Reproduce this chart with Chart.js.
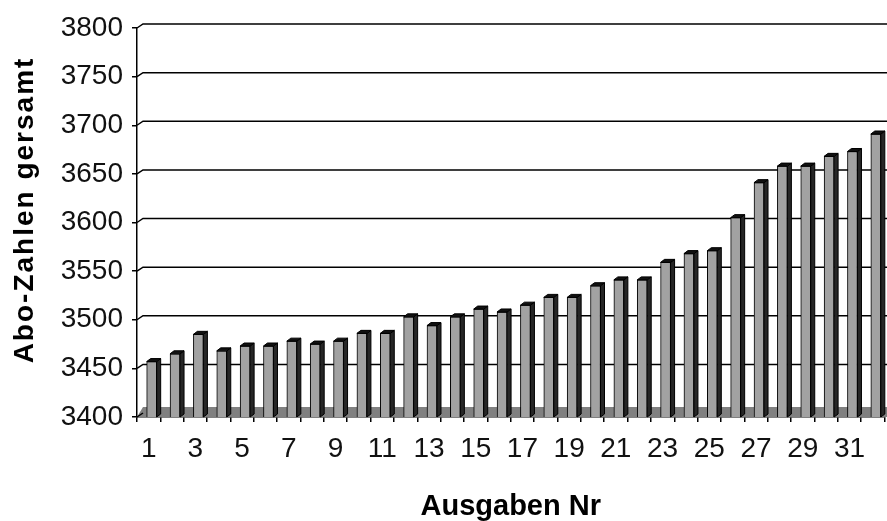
<!DOCTYPE html>
<html>
<head>
<meta charset="utf-8">
<script src="https://cdn.jsdelivr.net/npm/chart.js@4.4.1/dist/chart.umd.min.js"></script>
<style>
  html, body { margin: 0; padding: 0; background: #fff; overflow: hidden; }
  #wrap { width: 887px; height: 521px; }
</style>
</head>
<body>
<div id="wrap"><canvas id="chart" width="887" height="521"></canvas></div>
<script>
const ausgaben = ['1','2','3','4','5','6','7','8','9','10','11','12','13','14','15','16',
                  '17','18','19','20','21','22','23','24','25','26','27','28','29','30','31','32'];
const aboZahlen = [3457, 3465, 3485, 3468, 3473, 3473, 3478, 3475, 3478, 3486, 3486, 3503, 3494, 3503, 3511, 3508,
                   3515, 3523, 3523, 3535, 3541, 3541, 3559, 3568, 3571, 3605, 3641, 3658, 3658, 3668, 3673, 3691];
const yTicks = [3400, 3450, 3500, 3550, 3600, 3650, 3700, 3750, 3800];

const numFont = "'Liberation Sans', Arial, sans-serif";
const DX = 3;       // 3D shift of the bars
const DEPTH_X = 4, DEPTH_Y = 3;
const WALL_X = 6, WALL_Y = 4;

// back wall, floor and the 3D sides of the bars
const pseudo3d = {
  id: 'pseudo3d',
  beforeDatasetsDraw(chart) {
    const {ctx, chartArea: a, scales: {y}} = chart;
    ctx.save();
    // floor slab
    ctx.fillStyle = '#808080';
    ctx.beginPath();
    ctx.moveTo(a.left, a.bottom);
    ctx.lineTo(a.left + WALL_X, a.bottom - 10);
    ctx.lineTo(a.right + 4, a.bottom - 10);
    ctx.lineTo(a.right + 4, a.bottom);
    ctx.closePath();
    ctx.fill();
    // back wall grid lines
    ctx.strokeStyle = '#000';
    ctx.lineWidth = 1.5;
    yTicks.forEach(v => {
      const py = y.getPixelForValue(v);
      ctx.beginPath();
      ctx.moveTo(a.left, py);
      ctx.lineTo(a.left + WALL_X, py - WALL_Y);
      if (v > yTicks[0]) ctx.lineTo(a.right + 4, py - WALL_Y);
      ctx.stroke();
    });
    ctx.translate(DX, 0);
  },
  afterDatasetsDraw(chart) {
    const {ctx, chartArea: a} = chart;
    chart.getDatasetMeta(0).data.forEach(bar => {
      const {x, y, width} = bar.getProps(['x', 'y', 'width'], true);
      const base = a.bottom;
      const l = x - width / 2, r = x + width / 2;
      ctx.lineWidth = 1;
      ctx.strokeStyle = '#000';
      ctx.fillStyle = '#262626';
      ctx.beginPath();
      ctx.moveTo(r, y);
      ctx.lineTo(r + DEPTH_X, y - DEPTH_Y);
      ctx.lineTo(r + DEPTH_X, base - DEPTH_Y);
      ctx.lineTo(r, base);
      ctx.closePath();
      ctx.fill();
      ctx.stroke();
      ctx.fillStyle = '#111';
      ctx.beginPath();
      ctx.moveTo(l, y);
      ctx.lineTo(l + DEPTH_X, y - DEPTH_Y);
      ctx.lineTo(r + DEPTH_X, y - DEPTH_Y);
      ctx.lineTo(r, y);
      ctx.closePath();
      ctx.fill();
      ctx.stroke();
    });
    ctx.restore();
  },
  afterDraw(chart) {
    const {ctx} = chart;
    ctx.save();
    ctx.translate(25, 210);
    ctx.rotate(-Math.PI / 2);
    ctx.font = "bold 28px 'Liberation Sans', Arial, sans-serif";
    ctx.letterSpacing = '2px';
    ctx.fillStyle = '#000';
    ctx.textAlign = 'center';
    ctx.textBaseline = 'middle';
    ctx.fillText('Abo-Zahlen gersamt', 0, 0);
    ctx.restore();
  }
};

new Chart(document.getElementById('chart'), {
  type: 'bar',
  data: {
    labels: ausgaben,
    datasets: [{
      data: aboZahlen,
      backgroundColor: '#a2a2a2',
      borderColor: '#000',
      borderWidth: 1,
      borderSkipped: false,
      barThickness: 10
    }]
  },
  options: {
    responsive: false,
    animation: false,
    layout: { padding: { left: 0, right: 2.5, top: 28, bottom: 0 } },
    plugins: { legend: { display: false }, tooltip: { enabled: false } },
    scales: {
      x: {
        afterFit: s => { s.height = 104; },
        border: { color: '#000', width: 1.5 },
        grid: { offset: true, drawOnChartArea: false, color: '#000', tickLength: 5, lineWidth: 1.5 },
        ticks: {
          autoSkip: false, maxRotation: 0, padding: 10, color: '#111',
          font: { family: numFont, size: 28 },
          callback: (v, i) => (i % 2 === 0 ? ausgaben[i] : '')
        },
        title: {
          display: true, text: 'Ausgaben Nr', color: '#000',
          font: { family: "'Liberation Sans', Arial, sans-serif", size: 29, weight: 'bold', lineHeight: 1 },
          padding: { top: 0, bottom: 0 }
        }
      },
      y: {
        min: 3400, max: 3800,
        afterFit: s => { s.width = 137; },
        afterBuildTicks: s => { s.ticks = yTicks.map(v => ({ value: v })); },
        border: { color: '#000', width: 1.5 },
        grid: { drawOnChartArea: false, color: '#000', tickLength: 5, lineWidth: 1.5 },
        ticks: {
          padding: 9, color: '#111', font: { family: numFont, size: 28 },
          callback: v => String(v)
        }
      }
    }
  },
  plugins: [pseudo3d]
});
</script>
</body>
</html>
